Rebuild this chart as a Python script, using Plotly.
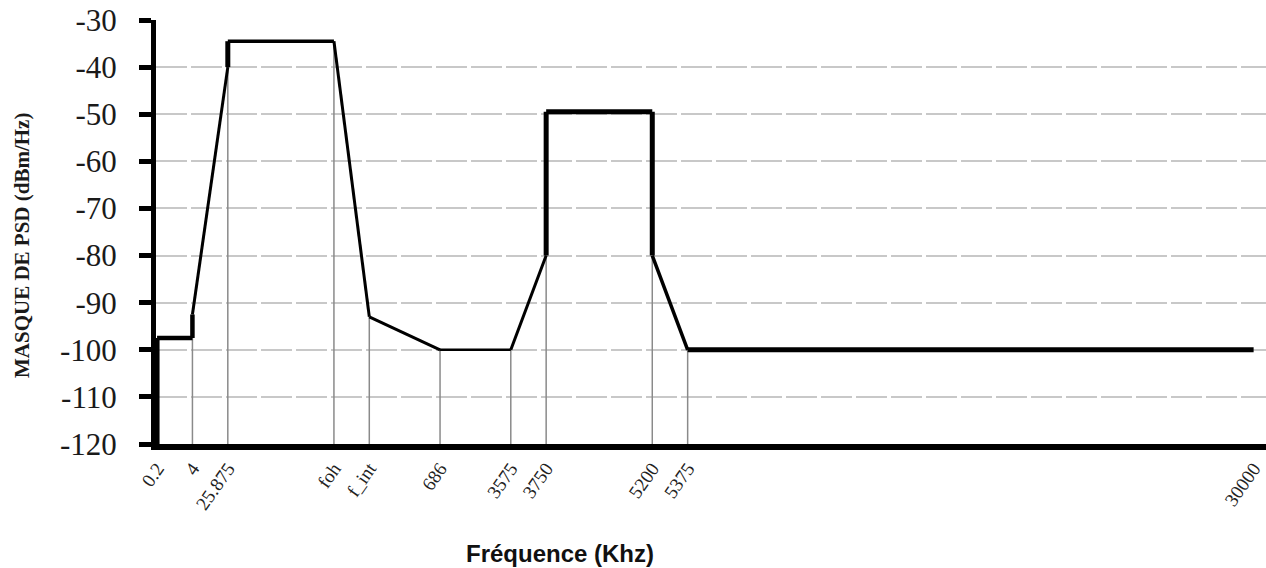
import plotly.graph_objects as go

# ---- data ----
tick_labels = ["0.2", "4", "25.875", "foh", "f_int", "686", "3575", "3750", "5200", "5375", "30000"]
tick_slots = [0, 1, 2, 5, 6, 8, 10, 11, 14, 15, 31]          # category slot of each label

mask_x = [0, 0, 1, 1, 2, 2, 5, 6, 8, 10, 11, 11, 14, 14, 15, 31]
mask_y = [-120, -97.5, -97.5, -92.5, -40, -34.5, -34.5, -93, -100, -100, -80, -49.5, -49.5, -80, -100, -100]

drop_x = [0, 1, 2, 5, 6, 8, 10, 11, 14, 15]
drop_top = [-97.5, -97.5, -40, -34.5, -93, -100, -100, -80, -80, -100]

y_ticks = [-30, -40, -50, -60, -70, -80, -90, -100, -110, -120]

# line width of each mask segment (style)
seg_width = [5, 4.5, 4.5, 3, 5, 3.5, 3, 3, 2.5, 3, 5, 5, 5, 3.5, 5]

fig = go.Figure()

# thin grey drop lines
dx, dy = [], []
for x, t in zip(drop_x, drop_top):
    dx += [x, x, None]
    dy += [-120, t, None]
fig.add_trace(go.Scatter(x=dx, y=dy, mode="lines",
                         line=dict(color="#8a8a8a", width=1.5),
                         hoverinfo="skip", showlegend=False))

# mask curve, segment by segment
for i in range(len(mask_x) - 1):
    fig.add_trace(go.Scatter(x=mask_x[i:i + 2], y=mask_y[i:i + 2], mode="lines",
                             line=dict(color="black", width=seg_width[i]),
                             showlegend=False))

L, T, B = 156, 20, 124
W, H = 1266, 568
pw = W - L
ph = H - T - B

fig.update_layout(
    width=W, height=H,
    margin=dict(l=L, r=0, t=T, b=B, autoexpand=False),
    paper_bgcolor="white", plot_bgcolor="white",
    xaxis=dict(
        range=[-0.03, 31.35],
        automargin=False,
        tickvals=tick_slots, ticktext=tick_labels,
        tickangle=-55, ticks="",
        ticklabeloverflow="allow",
        tickfont=dict(family="Liberation Serif", size=19, color="#222"),
        showgrid=False, zeroline=False,
        showline=True, linecolor="black", linewidth=6,
    ),
    yaxis=dict(
        range=[-120, -30],
        automargin=False,
        tickvals=y_ticks,
        ticktext=[str(v) for v in y_ticks],
        ticks="outside", ticklen=12, tickwidth=5, tickcolor="black",
        ticklabelstandoff=16,
        tickfont=dict(family="Liberation Serif", size=31, color="#1a1a1a"),
        showgrid=True, gridcolor="#c8c8c8", gridwidth=1.5, griddash="31px,4px",
        zeroline=False,
        showline=True, linecolor="black", linewidth=5,
    ),
    annotations=[
        dict(text="<b>Fréquence (Khz)</b>", xref="paper", yref="paper",
             x=(560 - L) / pw, y=(T + ph - 553) / ph,
             xanchor="center", yanchor="middle", showarrow=False,
             font=dict(family="Liberation Sans", size=24, color="#111")),
        dict(text="<b>MASQUE DE PSD (dBm/Hz)</b>", xref="paper", yref="paper",
             x=(22 - L) / pw, y=(T + ph - 246) / ph, textangle=-90,
             xanchor="center", yanchor="middle", showarrow=False,
             font=dict(family="Liberation Serif", size=21, color="#1a1a1a")),
    ],
)

fig.write_html("out.html")
